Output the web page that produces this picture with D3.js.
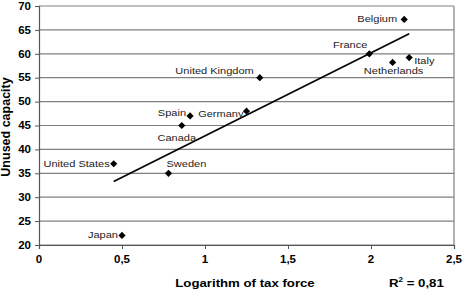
<!DOCTYPE html>
<html>
<head>
<meta charset="utf-8">
<script src="https://cdn.jsdelivr.net/npm/d3@7"></script>
<style>
  body { margin: 0; background: #fff; }
  svg { display: block; font-family: "Liberation Sans", Arial, sans-serif; }
</style>
</head>
<body>
<svg id="chart" width="463" height="299"></svg>
<script>
// data
let countries = ["Japan", "United States", "Sweden", "Canada", "Spain", "Germany",
                 "United Kingdom", "France", "Netherlands", "Italy", "Belgium"]
let logTaxForce = [0.50, 0.45, 0.78, 0.86, 0.91, 1.25, 1.33, 1.99, 2.13, 2.23, 2.20]
let unusedCapacity = [22, 37, 35, 45, 47, 48, 55, 60, 58.2, 59.2, 67.2]
let trendX = [0.45, 2.23]
let trendY = [33.3, 64.2]
let xTicks = [0, 0.5, 1, 1.5, 2, 2.5]
let yTicks = [20, 25, 30, 35, 40, 45, 50, 55, 60, 65, 70]
let rSquared = "0,81"

// label placement: [anchor, dx, dy]
let labelPlace = [
  ["end", -4, -1], ["end", -4, 0], ["start", -2, -10], ["middle", -5, 12],
  ["end", -4, -3], ["end", -3, 3], ["end", -6, -7], ["end", -2, -9],
  ["middle", 1, 8], ["start", 5, 3], ["end", -7, -1]
]

let plot = { left: 39, right: 454, top: 6, bottom: 245 },
  sx = 1.15

let x = d3.scaleLinear().domain([0, 2.5]).range([plot.left, plot.right])
let y = d3.scaleLinear().domain([20, 70]).range([plot.bottom, plot.top])
let svg = d3.select("#chart")

function stretched(sel, px, py) {
  return sel.attr("transform", `translate(${px},${py}) scale(${sx},1)`)
}

// gridlines
svg.append("g")
  .selectAll("line")
  .data(yTicks).enter()
  .append("line")
  .attr("x1", plot.left).attr("x2", plot.right)
  .attr("y1", d => y(d)).attr("y2", d => y(d))
  .attr("stroke", "#808080").attr("stroke-width", 1.2)

svg.append("line")
  .attr("x1", plot.right).attr("x2", plot.right)
  .attr("y1", plot.top).attr("y2", plot.bottom)
  .attr("stroke", "#808080").attr("stroke-width", 1.2)

// axes
svg.append("g")
  .attr("transform", `translate(${plot.left},0)`)
  .call(d3.axisLeft(y).tickValues(yTicks).tickSize(4).tickFormat(""))
svg.append("g")
  .attr("transform", `translate(0,${plot.bottom})`)
  .call(d3.axisBottom(x).tickValues(xTicks).tickSize(4).tickFormat(""))
svg.selectAll(".domain").attr("stroke", "#555").attr("stroke-width", 1.2)
svg.selectAll(".tick line").attr("stroke", "#555")

// tick labels
svg.append("g")
  .selectAll("text")
  .data(yTicks).enter()
  .append("text")
  .attr("transform", d => `translate(31,${y(d)}) scale(${sx},1)`)
  .attr("text-anchor", "end")
  .attr("dominant-baseline", "central")
  .attr("font-size", 10)
  .attr("font-weight", "bold")
  .text(d => d)

svg.append("g")
  .selectAll("text")
  .data(xTicks).enter()
  .append("text")
  .attr("transform", d => `translate(${x(d)},263) scale(${sx},1)`)
  .attr("text-anchor", "middle")
  .attr("font-size", 10)
  .attr("font-weight", "bold")
  .text(d => String(d).replace(".", ","))

// trend line
svg.append("line")
  .attr("x1", x(trendX[0])).attr("y1", y(trendY[0]))
  .attr("x2", x(trendX[1])).attr("y2", y(trendY[1]))
  .attr("stroke", "#000").attr("stroke-width", 1.6)

// points
let pts = countries.map((c, i) => ({ name: c, lx: logTaxForce[i], uc: unusedCapacity[i], place: labelPlace[i] }))

svg.append("g")
  .selectAll("path")
  .data(pts).enter()
  .append("path")
  .attr("d", d3.symbol(d3.symbolSquare, 26))
  .attr("transform", d => `translate(${x(d.lx)},${y(d.uc)}) rotate(45)`)
  .attr("fill", "#000")

svg.append("g")
  .selectAll("text")
  .data(pts).enter()
  .append("text")
  .attr("transform", d => `translate(${x(d.lx) + d.place[1]},${y(d.uc) + d.place[2]}) scale(${sx},1)`)
  .attr("text-anchor", d => d.place[0])
  .attr("dominant-baseline", "central")
  .attr("font-size", 9.6)
  .attr("fill", "#222")
  .text(d => d.name)

// axis titles
svg.append("text")
  .attr("transform", "translate(10,127) rotate(-90)")
  .attr("text-anchor", "middle")
  .attr("font-size", 12.5)
  .attr("font-weight", "bold")
  .text("Unused capacity")

svg.append("text")
  .call(stretched, 245, 287)
  .attr("text-anchor", "middle")
  .attr("font-size", 11.5)
  .attr("font-weight", "bold")
  .text("Logarithm of tax force")

let r2 = svg.append("text")
  .call(stretched, 389, 287)
  .attr("font-size", 11.5)
  .attr("font-weight", "bold")
r2.append("tspan").text("R")
r2.append("tspan").attr("font-size", 7).attr("dy", -5).text("2")
r2.append("tspan").attr("dy", 5).text(" = " + rSquared)
</script>
</body>
</html>
